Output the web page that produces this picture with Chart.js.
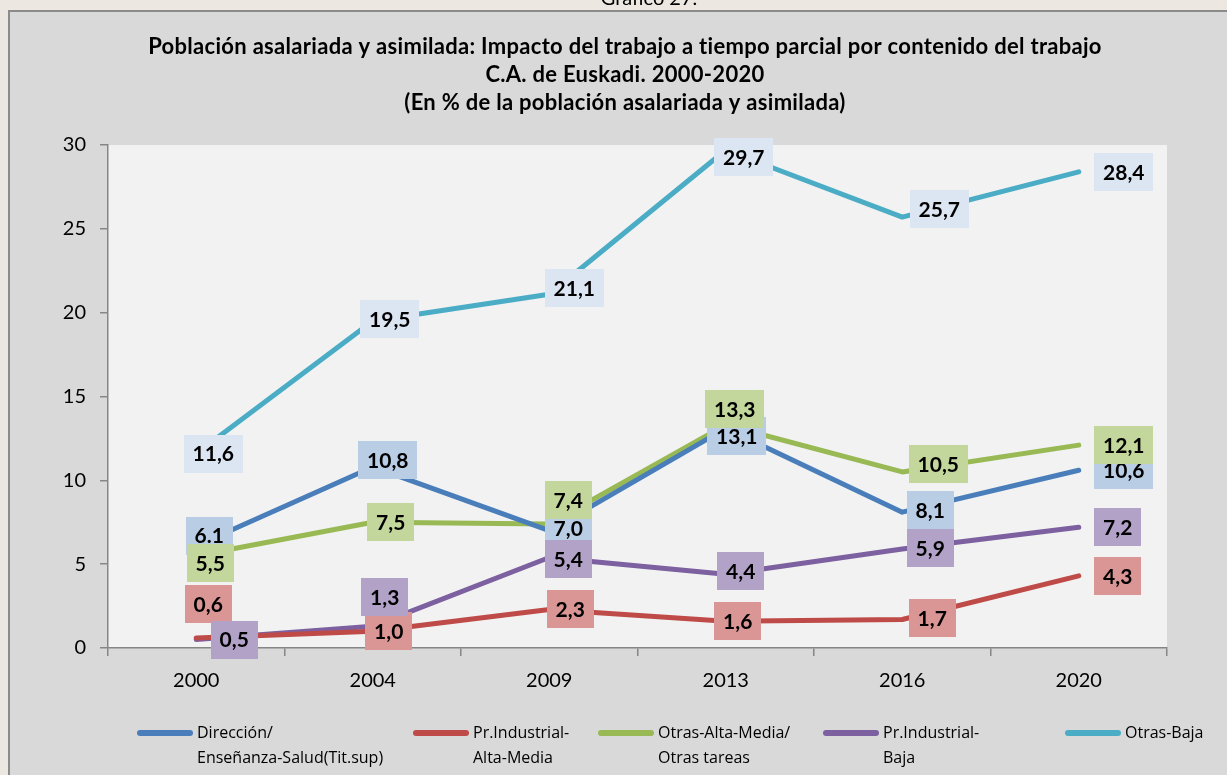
<!DOCTYPE html>
<html>
<head>
<meta charset="utf-8">
<script src="https://cdn.jsdelivr.net/npm/chart.js@4.4.1/dist/chart.umd.min.js"></script>
<style>
html,body{margin:0;padding:0;background:#ece8e1;}
canvas{display:block;}
</style>
</head>
<body>
<canvas id="c" width="1227" height="775"></canvas>
<script>
// ---- data ----
const years = ['2000', '2004', '2009', '2013', '2016', '2020'];
const direccion = [6.1, 10.8, 7.0, 13.1, 8.1, 10.6];
const industrialAltaMedia = [0.6, 1.0, 2.3, 1.6, 1.7, 4.3];
const otrasAltaMedia = [5.5, 7.5, 7.4, 13.3, 10.5, 12.1];
const industrialBaja = [0.5, 1.3, 5.4, 4.4, 5.9, 7.2];
const otrasBaja = [11.6, 19.5, 21.1, 29.7, 25.7, 28.4];
const seriesNames = [
  ['Dirección/', 'Enseñanza-Salud(Tit.sup)'],
  ['Pr.Industrial-', 'Alta-Media'],
  ['Otras-Alta-Media/', 'Otras tareas'],
  ['Pr.Industrial-', 'Baja'],
  ['Otras-Baja']
];
const yTicks = [0, 5, 10, 15, 20, 25, 30];
const titleLines = [
  'Población asalariada y asimilada: Impacto del trabajo a tiempo parcial por contenido del trabajo',
  'C.A. de Euskadi. 2000-2020',
  '(En % de la población asalariada y asimilada)'
];
const headerText = 'Gráfico 27.';

// ---- styles ----
const FONT = "Lato, 'Open Sans', sans-serif";
const LEGEND_FONT = "'Open Sans', Lato, sans-serif";
const lineColors = ['#4a7ebb', '#be4b48', '#98b954', '#7d60a0', '#4bacc6'];
const labelBg = ['#b9cde5', '#d99694', '#c3d69b', '#b3a2c7', '#dce6f2'];
// label box offsets from the point (px), per series, per point
const labelOffsets = [
  [[13,-10],[15,-7],[19,-2],[11,8],[28,-2],[45,0]],
  [[12,-34],[16,0],[21,0],[12,0],[30,-1],[39,0]],
  [[14,7],[18,0],[19,-24],[9,-16],[36,-8],[45,0]],
  [[38,0],[12,-29],[19,2],[15,-3],[28,-1],[39,0]],
  [[17,0],[17,-2],[25,-6],[18,7],[37,-8],[45,0]]
];
const labelTextOverride = {'0-0': '6.1'};
const legendX = [137, 413, 598, 823, 1065];

const allSeries = [direccion, industrialAltaMedia, otrasAltaMedia, industrialBaja, otrasBaja];

const backgroundPlugin = {
  id: 'bgPlugin',
  beforeDraw(chart) {
    const ctx = chart.ctx;
    ctx.save();
    ctx.fillStyle = '#ece8e1';
    ctx.fillRect(0, 0, chart.width, chart.height);
    ctx.fillStyle = '#000';
    ctx.font = '20px ' + FONT;
    ctx.textAlign = 'center';
    ctx.textBaseline = 'alphabetic';
    ctx.fillText(headerText, 649, 5);
    ctx.fillStyle = '#d9d9d9';
    ctx.fillRect(9, 11, 1240, 800);
    ctx.strokeStyle = '#8b8b8b';
    ctx.lineWidth = 2;
    ctx.strokeRect(9, 11, 1240, 800);
    const a = chart.chartArea;
    ctx.fillStyle = '#f2f2f2';
    ctx.fillRect(a.left, a.top, a.right - a.left, a.bottom - a.top);
    // title
    ctx.fillStyle = '#000';
    ctx.font = 'bold 22px ' + FONT;
    try { ctx.letterSpacing = '0.3px'; } catch (e) {}
    ctx.textBaseline = 'middle';
    const ys = [47, 75, 103];
    titleLines.forEach((t, i) => ctx.fillText(t, 625, ys[i]));
    try { ctx.letterSpacing = '0px'; } catch (e) {}
    ctx.restore();
  }
};

const labelPlugin = {
  id: 'labelPlugin',
  afterDatasetsDraw(chart) {
    const ctx = chart.ctx;
    ctx.save();
    ctx.font = 'bold 21px ' + FONT;
    ctx.textAlign = 'center';
    ctx.textBaseline = 'middle';
    chart.data.datasets.forEach((ds, si) => {
      const meta = chart.getDatasetMeta(si);
      meta.data.forEach((pt, pi) => {
        const v = ds.data[pi];
        const key = si + '-' + pi;
        const txt = labelTextOverride[key] || v.toFixed(1).replace('.', ',');
        const off = labelOffsets[si][pi];
        const cx = pt.x + off[0], cy = pt.y + off[1];
        const w = ctx.measureText(txt).width + 18;
        const h = 38;
        ctx.fillStyle = labelBg[si];
        ctx.fillRect(Math.round(cx - w / 2), Math.round(cy - h / 2), Math.round(w), h);
        ctx.fillStyle = '#000';
        ctx.fillText(txt, cx, cy + 1);
      });
    });
    ctx.restore();
  }
};

const legendPlugin = {
  id: 'legendPlugin',
  afterDraw(chart) {
    const ctx = chart.ctx;
    ctx.save();
    ctx.font = '16px ' + LEGEND_FONT;
    ctx.textAlign = 'left';
    ctx.textBaseline = 'middle';
    seriesNames.forEach((lines, i) => {
      const x = legendX[i];
      ctx.strokeStyle = lineColors[i];
      ctx.lineWidth = 6;
      ctx.lineCap = 'round';
      ctx.beginPath();
      ctx.moveTo(x + 3, 733);
      ctx.lineTo(x + 53, 733);
      ctx.stroke();
      ctx.fillStyle = '#000';
      lines.forEach((l, j) => ctx.fillText(l, x + 60, 733 + j * 25));
    });
    ctx.restore();
  }
};

new Chart(document.getElementById('c'), {
  type: 'line',
  data: {
    labels: years,
    datasets: allSeries.map((d, i) => ({
      label: seriesNames[i].join(' '),
      data: d,
      borderColor: lineColors[i],
      backgroundColor: lineColors[i],
      borderWidth: 5,
      pointRadius: 0,
      tension: 0,
      borderJoinStyle: 'round',
      borderCapStyle: 'round',
      fill: false
    }))
  },
  options: {
    responsive: false,
    animation: false,
    devicePixelRatio: 1,
    layout: { padding: { top: 145, left: 8, right: 60, bottom: 0 } },
    plugins: {
      legend: { display: false },
      title: { display: false },
      tooltip: { enabled: false }
    },
    scales: {
      x: {
        type: 'category',
        offset: true,
        grid: { offset: true, drawOnChartArea: false, drawTicks: true, tickLength: 8, color: '#868686', lineWidth: 1.5 },
        border: { color: '#868686', width: 1.5 },
        ticks: { color: '#000', font: { family: FONT, size: 20 }, padding: 13 },
        afterFit(s) { s.height = 127; }
      },
      y: {
        min: 0,
        max: 30,
        afterBuildTicks(s) { s.ticks = yTicks.map(v => ({ value: v })); },
        grid: { drawOnChartArea: false, drawTicks: true, tickLength: 8, color: '#868686', lineWidth: 1.5 },
        border: { color: '#868686', width: 1.5 },
        ticks: { color: '#000', font: { family: FONT, size: 20 }, padding: 14 },
        afterFit(s) { s.width = 100; }
      }
    }
  },
  plugins: [backgroundPlugin, labelPlugin, legendPlugin]
});
</script>
</body>
</html>
